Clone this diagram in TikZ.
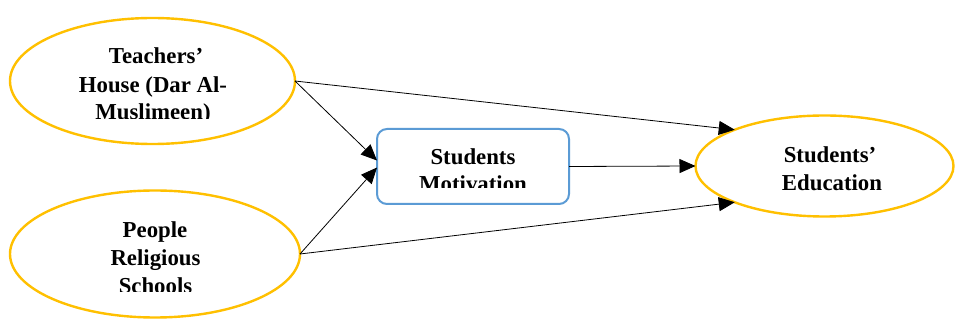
\documentclass[tikz,border=0pt]{standalone}
\usepackage{fontspec}
\setmainfont{Liberation Serif}
\usetikzlibrary{shapes.geometric,arrows.meta}
\definecolor{gold}{HTML}{FFC000}
\definecolor{boxblue}{HTML}{5B9BD5}
\begin{document}
\begin{tikzpicture}[x=1pt,y=-1pt,
  oval/.style={ellipse,draw=gold,line width=2.4pt,inner sep=0pt,outer sep=0pt},
  mbox/.style={draw=boxblue,line width=2pt,rounded corners=10pt,inner sep=0pt,outer sep=0pt},
  lbl/.style={font=\fontsize{22.8}{27}\selectfont\bfseries,anchor=base,inner sep=0pt},
  arr/.style={line width=0.8pt,-{Triangle[length=16pt,width=14pt]}}]
\useasboundingbox (0,0) rectangle (956,320);
\fill[white] (0,0) rectangle (956,320);
\node[oval,minimum width=285pt,minimum height=126pt] (e1) at (152.5,81) {};
\node[oval,minimum width=290pt,minimum height=127pt] (e2) at (155,254) {};
\node[oval,minimum width=258pt,minimum height=101pt] (e3) at (824.5,166) {};
\node[mbox,minimum width=192pt,minimum height=75pt] (b) at (473,166.5) {};
% texts
\node[lbl] (t1a) at (156,64) {Teachers’};
\node[lbl] (t1b) at (153,93) {House (Dar Al-};
\begin{scope}
\clip (0,0) rectangle (956,119);
\node[lbl] (t1c) at (153,120) {Muslimeen)};
\end{scope}
\node[lbl] (t2a) at (155,238) {People};
\node[lbl] (t2b) at (155.5,266) {Religious};
\begin{scope}
\clip (0,0) rectangle (956,292);
\node[lbl] (t2c) at (155.5,294) {Schools};
\end{scope}
\node[lbl] (t3a) at (473,165) {Students};
\begin{scope}
\clip (0,0) rectangle (956,188);
\node[lbl] (t3b) at (473,192) {Motivation};
\end{scope}
\node[lbl] (t4a) at (830,163) {Students’};
\node[lbl] (t4b) at (832,191) {Education};
% connectors
\draw[arr] (e1.east) -- ([yshift=6pt]b.west);
\draw[arr] (e2.east) -- ([yshift=-1pt]b.west);
\draw[arr] (e1.east) -- (e3.158);
\draw[arr] (e2.east) -- (e3.202);
\draw[arr] (b.east) -- (e3.west);
\end{tikzpicture}
\end{document}
